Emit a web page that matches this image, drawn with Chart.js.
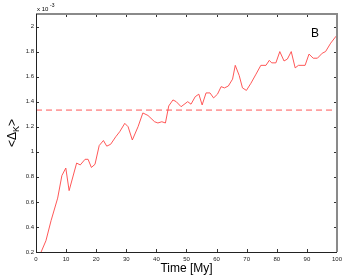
<!DOCTYPE html>
<html><head><meta charset="utf-8">
<script src="https://cdn.jsdelivr.net/npm/chart.js@4/dist/chart.umd.min.js"></script>
<style>html,body{margin:0;padding:0;background:#fff}#wrap{width:346px;height:277px}</style>
</head><body><div id="wrap"><canvas id="c" width="346" height="277"></canvas></div>
<script>
const timeMy = [1.7,3.3,5.0,7.2,8.6,9.9,11.0,13.5,14.7,16.3,17.3,18.4,19.6,21.0,22.4,23.5,24.8,26.5,27.8,29.5,30.6,32.0,33.9,35.5,37.2,39.4,40.5,41.8,43.0,44.1,45.5,46.6,48.2,50.4,51.5,52.9,54.1,55.2,56.5,57.8,59.0,60.3,61.5,62.6,63.9,65.3,66.2,67.5,68.6,69.9,71.4,73.1,74.7,76.4,77.5,78.3,79.7,81.0,82.4,83.5,84.8,86.1,87.2,89.4,90.7,92.1,93.5,95.1,96.2,97.9,99.6,100];
const deltaK = [0.20,0.29,0.45,0.63,0.81,0.87,0.69,0.91,0.895,0.94,0.94,0.875,0.90,1.05,1.09,1.045,1.06,1.12,1.16,1.227,1.20,1.094,1.20,1.31,1.29,1.24,1.23,1.24,1.23,1.366,1.414,1.40,1.36,1.40,1.38,1.44,1.46,1.374,1.47,1.47,1.43,1.46,1.52,1.51,1.525,1.58,1.69,1.61,1.51,1.49,1.547,1.62,1.69,1.69,1.73,1.71,1.71,1.80,1.725,1.74,1.80,1.67,1.69,1.69,1.78,1.747,1.747,1.787,1.80,1.867,1.92,1.93];
const meanTime = [0,100];
const meanValue = [1.333,1.333];
const xTicks = [0,10,20,30,40,50,60,70,80,90,100];
const yTicks = [0.2,0.4,0.6,0.8,1,1.2,1.4,1.6,1.8,2];

const RED = 'rgba(255,70,70,0.9)';
const boxPlugin = {
  id:'box',
  afterDraw(chart){
    const {ctx, chartArea:a, scales:{x,y}} = chart;
    ctx.save();
    // ticks inward
    ctx.strokeStyle = '#333'; ctx.lineWidth = 1;
    ctx.beginPath();
    xTicks.forEach(v=>{const px=Math.round(x.getPixelForValue(v))+0.5;
      ctx.moveTo(px,a.bottom); ctx.lineTo(px,a.bottom-3);
      ctx.moveTo(px,a.top); ctx.lineTo(px,a.top+3);});
    yTicks.forEach(v=>{const py=Math.round(y.getPixelForValue(v))+0.5;
      ctx.moveTo(a.left,py); ctx.lineTo(a.left+3,py);
      ctx.moveTo(a.right,py); ctx.lineTo(a.right-3,py);});
    ctx.stroke();
    // top/right gray
    ctx.strokeStyle = '#8a8a8a'; ctx.lineWidth = 2;
    ctx.beginPath();
    ctx.moveTo(a.left,a.top); ctx.lineTo(a.right,a.top); ctx.lineTo(a.right,a.bottom);
    ctx.stroke();
    // left/bottom dark
    ctx.strokeStyle = '#222'; ctx.lineWidth = 1;
    ctx.beginPath();
    ctx.moveTo(a.left+0.5,a.top); ctx.lineTo(a.left+0.5,a.bottom+0.5); ctx.lineTo(a.right,a.bottom+0.5);
    ctx.stroke();
    // texts
    ctx.fillStyle = '#000';
    ctx.textBaseline = 'alphabetic';
    ctx.font = '6px "Liberation Sans", Arial, sans-serif';
    ctx.textAlign = 'left';
    ctx.fillText('x 10', 37, 11);
    ctx.font = '5px "Liberation Sans", Arial, sans-serif';
    ctx.fillText('-3', 50, 7);
    ctx.font = '12px "Liberation Sans", Arial, sans-serif';
    ctx.fillText('B', 311, 37);
    ctx.textAlign = 'center';
    ctx.fillText('Time [My]', (a.left+a.right)/2, 272);
    // y title rotated
    ctx.translate(16, 133);
    ctx.rotate(-Math.PI/2);
    ctx.textAlign = 'left';
    const f1 = '12px "Liberation Sans", Arial, sans-serif';
    const f2 = '9px "Liberation Sans", Arial, sans-serif';
    ctx.font = f1; const w1 = ctx.measureText('<Δ').width; const w3 = ctx.measureText('>').width;
    ctx.font = f2; const w2 = ctx.measureText('K').width;
    let sx = -(w1+w2+w3)/2;
    ctx.font = f1; ctx.fillText('<Δ', sx, 0); sx += w1;
    ctx.font = f2; ctx.fillText('K', sx, 3); sx += w2;
    ctx.font = f1; ctx.fillText('>', sx, 0);
    ctx.restore();
  }
};

new Chart(document.getElementById('c'), {
  type:'line',
  data:{datasets:[
    {data: timeMy.map((t,i)=>({x:t,y:deltaK[i]})), borderColor:RED, borderWidth:1, pointRadius:0, tension:0, fill:false},
    {data: meanTime.map((t,i)=>({x:t,y:meanValue[i]})), borderColor:RED, borderWidth:1, borderDash:[6,4], pointRadius:0, fill:false}
  ]},
  options:{
    responsive:false, animation:false, devicePixelRatio:1,
    layout:{padding:{left:0,top:14,right:8,bottom:0}},
    plugins:{legend:{display:false}, tooltip:{enabled:false}},
    scales:{
      x:{type:'linear', min:0, max:100,
        afterFit(s){s.height=25;},
        afterBuildTicks(s){s.ticks = xTicks.map(v=>({value:v}));},
        grid:{display:false, drawTicks:false}, border:{display:false},
        ticks:{padding:4, maxRotation:0, autoSkip:false, color:'#222', font:{size:6, family:'"Liberation Sans", Arial, sans-serif'}, callback:v=>String(v)}},
      y:{type:'linear', min:0.2, max:2.1,
        afterFit(s){s.width=36;},
        afterBuildTicks(s){s.ticks = yTicks.map(v=>({value:v}));},
        grid:{display:false, drawTicks:false}, border:{display:false},
        ticks:{padding:2, autoSkip:false, color:'#222', font:{size:6, family:'"Liberation Sans", Arial, sans-serif'}, callback:v=>String(Number(v.toFixed(1)))}}
    }
  },
  plugins:[boxPlugin]
});
</script></body></html>
